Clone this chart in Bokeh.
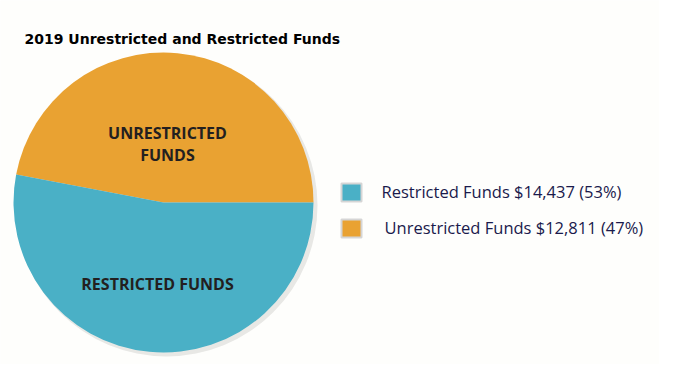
import math
from bokeh.plotting import figure
from bokeh.models import Range1d
from bokeh.core.properties import value
from bokeh.embed import file_html
from bokeh.resources import INLINE

# ---- data ----
title = "2019 Unrestricted and Restricted Funds"
categories = ["Unrestricted Funds", "Restricted Funds"]
amounts = [12811, 14437]
percents = [47, 53]
colors = ["#E9A232", "#4AB0C6"]
slice_labels = [["UNRESTRICTED", "FUNDS"], ["RESTRICTED FUNDS"]]
legend_order = [1, 0]

W, H = 659, 364
# data coords: x = screen x, y = 380 - screen y
p = figure(width=W, height=H, output_backend="svg", toolbar_location=None,
           x_range=Range1d(0, W), y_range=Range1d(380 - H, 380),
           min_border=0)
p.axis.visible = False
p.grid.visible = False
p.outline_line_color = None
p.background_fill_color = "#FEFEFC"
p.border_fill_color = "#FEFEFC"

def Y(sy):
    return 380 - sy

cx, cy, r = 163, Y(202), 150
total = sum(amounts)
starts, ends = [], []
acc = 0.0
for a in amounts:
    starts.append(acc)
    acc += 2 * math.pi * a / total
    ends.append(acc)

# soft shadow
p.circle(x=cx + 3, y=cy - 3, radius=r + 1, fill_color="#D8D8D6", fill_alpha=0.6, line_color=None)
p.wedge(x=cx, y=cy, radius=r, start_angle=starts, end_angle=ends,
        fill_color=colors, line_color=None)

# slice labels
lab_font = value("Open Sans")
p.text(x=[167, 167], y=[Y(132), Y(154)], text=slice_labels[0],
       text_font=lab_font, text_font_style="bold", text_font_size="16px",
       text_color="#231F20", text_align="center", text_baseline="middle")
p.text(x=[157], y=[Y(283)], text=slice_labels[1],
       text_font=lab_font, text_font_style="bold", text_font_size="16px",
       text_color="#231F20", text_align="center", text_baseline="middle")

# title
p.text(x=[24], y=[Y(38)], text=[title], text_font=value("DejaVu Sans"),
       text_font_style="bold", text_font_size="14px", text_color="#000000",
       text_align="left", text_baseline="middle")

# legend
leg_y = [Y(192), Y(228)]
leg_txt_x = [381, 384]
for i, k in enumerate(legend_order):
    p.rect(x=351, y=leg_y[i], width=20, height=18, fill_color=colors[k],
           line_color="#D5D5D5", line_width=2)
    txt = f"{categories[k]} ${amounts[k]:,} ({percents[k]}%)"
    p.text(x=[leg_txt_x[i]], y=[leg_y[i] + 1], text=[txt], text_font=value("Open Sans"),
           text_font_size="16.5px", text_color="#1A1A4C", text_align="left",
           text_baseline="middle")

open("out.html", "w").write(file_html(p, INLINE))
